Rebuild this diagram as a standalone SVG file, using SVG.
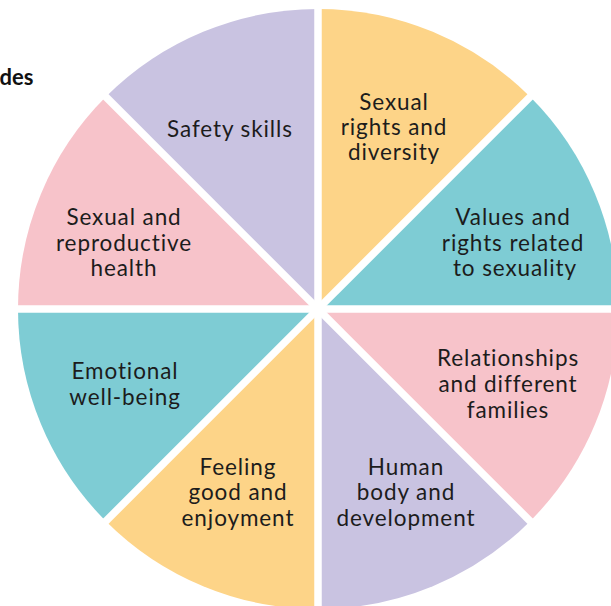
<svg xmlns="http://www.w3.org/2000/svg" width="611" height="606" viewBox="0 0 611 606">
<style>
.lav{fill:#C9C3E1}
.ora{fill:#FDD488}
.tea{fill:#7ECCD4}
.pin{fill:#F7C3CA}
.lbl{font-family:Lato,"Open Sans","Liberation Sans",sans-serif;font-size:22.5px;letter-spacing:0.9px;fill:#1c1c1c;text-anchor:middle}
.ttl{font-family:Lato,"Liberation Sans",sans-serif;font-size:22px;font-weight:bold;fill:#111;text-anchor:end}
.div{stroke:#fff;stroke-width:7.5;fill:none}
</style>
<rect width="611" height="606" fill="#fff"/>
<text class="ttl" x="33.5" y="85">des</text>
<g id="sexual-rights-diversity">
<path class="ora" d="M318,309 L318,9 A300,300 0 0 1 530.13,96.87 Z"/>
<text class="lbl"><tspan x="394" y="110">Sexual</tspan><tspan x="394" y="135">rights and</tspan><tspan x="394" y="160">diversity</tspan></text>
</g>
<g id="values-rights">
<path class="tea" d="M318,309 L530.13,96.87 A300,300 0 0 1 618,309 Z"/>
<text class="lbl"><tspan x="513" y="225">Values and</tspan><tspan x="513" y="250.5">rights related</tspan><tspan x="515" y="276">to sexuality</tspan></text>
</g>
<g id="relationships">
<path class="pin" d="M318,309 L618,309 A300,300 0 0 1 530.13,521.13 Z"/>
<text class="lbl"><tspan x="508" y="366">Relationships</tspan><tspan x="508" y="392">and different</tspan><tspan x="508" y="417.5">families</tspan></text>
</g>
<g id="human-body">
<path class="lav" d="M318,309 L530.13,521.13 A300,300 0 0 1 318,609 Z"/>
<text class="lbl"><tspan x="406" y="474.5">Human</tspan><tspan x="406" y="500">body and</tspan><tspan x="406" y="525.5">development</tspan></text>
</g>
<g id="feeling-good">
<path class="ora" d="M318,309 L318,609 A300,300 0 0 1 105.87,521.13 Z"/>
<text class="lbl"><tspan x="238" y="474.5">Feeling</tspan><tspan x="238" y="500">good and</tspan><tspan x="238" y="525.5">enjoyment</tspan></text>
</g>
<g id="emotional-wellbeing">
<path class="tea" d="M318,309 L105.87,521.13 A300,300 0 0 1 18,309 Z"/>
<text class="lbl"><tspan x="125" y="379">Emotional</tspan><tspan x="125" y="405">well-being</tspan></text>
</g>
<g id="sexual-reproductive-health">
<path class="pin" d="M318,309 L18,309 A300,300 0 0 1 105.87,96.87 Z"/>
<text class="lbl"><tspan x="124" y="225">Sexual and</tspan><tspan x="124" y="250.5">reproductive</tspan><tspan x="124" y="276">health</tspan></text>
</g>
<g id="safety-skills">
<path class="lav" d="M318,309 L105.87,96.87 A300,300 0 0 1 318,9 Z"/>
<text class="lbl"><tspan x="230" y="137">Safety skills</tspan></text>
</g>
<g id="dividers">
<line class="div" x1="318" y1="0" x2="318" y2="620"/>
<line class="div" x1="0" y1="309" x2="630" y2="309"/>
<line class="div" x1="90" y1="81" x2="546" y2="537"/>
<line class="div" x1="90" y1="537" x2="546" y2="81"/>
</g>
</svg>
